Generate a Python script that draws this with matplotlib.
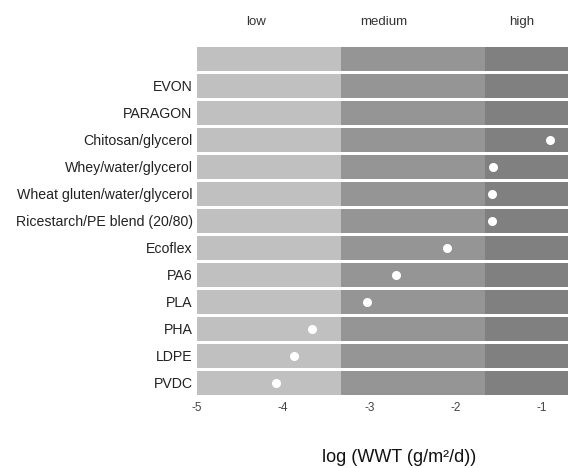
import matplotlib
matplotlib.use("Agg")
import matplotlib.pyplot as plt
import matplotlib.transforms as mtransforms

plt.rcParams["font.family"] = ["Liberation Sans", "DejaVu Sans"]

# -----------------------------
# Data
# -----------------------------
materials = [
    "",
    "EVON",
    "PARAGON",
    "Chitosan/glycerol",
    "Whey/water/glycerol",
    "Wheat gluten/water/glycerol",
    "Ricestarch/PE blend (20/80)",
    "Ecoflex",
    "PA6",
    "PLA",
    "PHA",
    "LDPE",
    "PVDC",
]
# log WWT values (None = no value shown)
log_wwt = [None, None, None, -0.91, -1.57, -1.58, -1.58, -2.10, -2.69, -3.03, -3.67, -3.87, -4.08]

band_names = ["low", "medium", "high"]
band_edges = [-5.0, -10 / 3, -5 / 3, 0.0]
band_colors = ["#c0c0c0", "#959595", "#808080"]

x_ticks = [-5, -4, -3, -2, -1]
# -----------------------------

fig = plt.figure(figsize=(5.68, 4.68), dpi=100)
ax = fig.add_axes([0.3463, 0.1566, 0.6537, 0.7436])

rows = list(range(len(materials)))
bar_h = 0.89
for name, lo, hi, col in zip(band_names, band_edges[:-1], band_edges[1:], band_colors):
    ax.barh(rows, [hi - lo] * len(rows), left=lo, height=bar_h, color=col, linewidth=0)

# points
ys = [r for r, v in zip(rows, log_wwt) if v is not None]
xs = [v for v in log_wwt if v is not None]
ax.plot(xs, ys, "o", color="white", markersize=6.5, markeredgewidth=0, zorder=3)

ax.set_xlim(-5, -0.70)
ax.set_ylim(len(materials) - 1 + bar_h / 2, -bar_h / 2)

ax.set_yticks(rows)
ax.set_yticklabels(materials, fontsize=10.2, color="#222222")
ax.set_xticks(x_ticks)
ax.set_xticklabels([str(t) for t in x_ticks], fontsize=8.5, color="#444444")
ax.tick_params(axis="both", length=0)
ax.tick_params(axis="y", pad=3)
ax.tick_params(axis="x", pad=5)

for spine in ax.spines.values():
    spine.set_visible(False)

# band headings above the plot
trans = mtransforms.blended_transform_factory(ax.transData, fig.transFigure)
for name, xc in zip(band_names, [-4.31, -2.83, -1.24]):
    ax.text(xc, 0.9536, name, transform=trans, ha="center", va="center",
            fontsize=9.5, color="#333333")

fig.text(0.7025, 0.0235, "log (WWT (g/m²/d))", ha="center", va="center",
         fontsize=13, color="#111111")

fig.savefig("out.png", dpi=100)
